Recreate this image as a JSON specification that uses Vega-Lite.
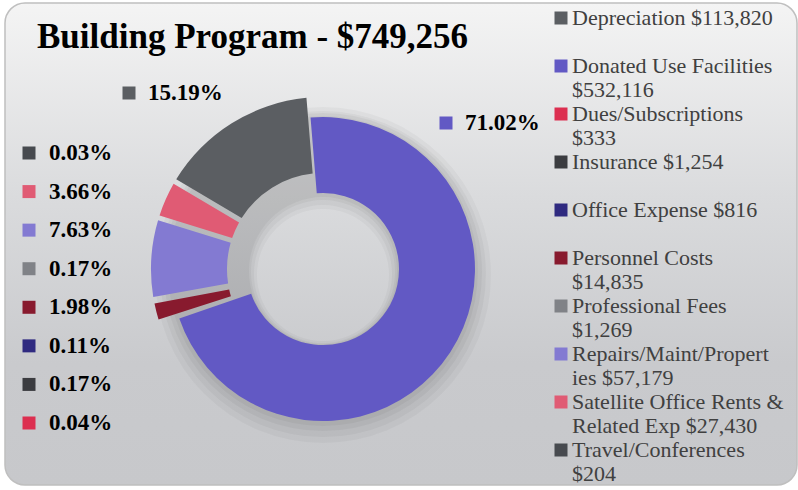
{
  "$schema": "https://vega.github.io/schema/vega-lite/v6.json",
  "width": 798,
  "height": 490,
  "autosize": {"type": "fit", "contains": "padding"},
  "padding": {"left": 5, "top": 3, "right": 1, "bottom": 5},
  "background": "white",
  "title": {
    "text": "Building Program - $749,256",
    "anchor": "start",
    "frame": "group",
    "font": "Liberation Serif",
    "fontSize": 35,
    "fontWeight": "bold",
    "color": "#000000",
    "baseline": "alphabetic",
    "offset": -80,
    "dx": 32
  },
  "config": {
    "view": {
      "stroke": "#bfbfbf",
      "strokeWidth": 1.5,
      "cornerRadius": 20,
      "fill": {
        "gradient": "linear",
        "x1": 0, "y1": 0, "x2": 0, "y2": 1,
        "stops": [
          {"offset": 0, "color": "#f4f4f4"},
          {"offset": 0.4, "color": "#dadbdd"},
          {"offset": 0.75, "color": "#c9cacd"},
          {"offset": 1, "color": "#c7c8cb"}
        ]
      }
    },
    "legend": {
      "orient": "none",
      "legendX": 545,
      "legendY": 4,
      "symbolType": "square",
      "symbolSize": 169,
      "symbolStrokeWidth": 0,
      "labelFont": "Liberation Serif",
      "labelFontSize": 22,
      "labelColor": "#404040",
      "labelLimit": 320,
      "labelOffset": 0,
      "rowPadding": 2
    }
  },
  "data": {
    "values": [
      {"category": "Depreciation", "amount": 113820, "legend": "Depreciation $113,820"},
      {"category": "Donated Use Facilities", "amount": 532116, "legend": "Donated Use Facilities\n$532,116"},
      {"category": "Dues/Subscriptions", "amount": 333, "legend": "Dues/Subscriptions\n$333"},
      {"category": "Insurance", "amount": 1254, "legend": "Insurance $1,254"},
      {"category": "Office Expense", "amount": 816, "legend": "Office Expense $816"},
      {"category": "Personnel Costs", "amount": 14835, "legend": "Personnel Costs\n$14,835"},
      {"category": "Professional Fees", "amount": 1269, "legend": "Professional Fees\n$1,269"},
      {"category": "Repairs/Maint/Properties", "amount": 57179, "legend": "Repairs/Maint/Propert\nies $57,179"},
      {"category": "Satellite Office Rents & Related Exp", "amount": 27430, "legend": "Satellite Office Rents &\nRelated Exp  $27,430"},
      {"category": "Travel/Conferences", "amount": 204, "legend": "Travel/Conferences\n$204"}
    ]
  },
  "transform": [
    {"stack": "amount", "groupby": [], "sort": [{"field": "category", "order": "ascending"}], "offset": "normalize", "as": ["s0", "s1"]},
    {"calculate": "datum.s1 - datum.s0", "as": "share"}
  ],
  "layer": [
    {
      "transform": [{"filter": "datum.category === 'Donated Use Facilities'"}],
      "mark": {"type": "arc", "innerRadius": 66, "outerRadius": 168, "color": "#000000", "fillOpacity": 0.03, "x": {"expr": "width*0.4015"}, "y": {"expr": "height*0.552 + 6"}},
      "encoding": {"theta": {"value": 0}, "theta2": {"value": 6.2832}}
    },
    {
      "transform": [{"filter": "datum.category === 'Donated Use Facilities'"}],
      "mark": {"type": "arc", "innerRadius": 69, "outerRadius": 163, "color": "#000000", "fillOpacity": 0.035, "x": {"expr": "width*0.4015"}, "y": {"expr": "height*0.552 + 5"}},
      "encoding": {"theta": {"value": 0}, "theta2": {"value": 6.2832}}
    },
    {
      "transform": [{"filter": "datum.category === 'Donated Use Facilities'"}],
      "mark": {"type": "arc", "innerRadius": 72, "outerRadius": 159, "color": "#000000", "fillOpacity": 0.04, "x": {"expr": "width*0.4015"}, "y": {"expr": "height*0.552 + 3"}},
      "encoding": {"theta": {"value": 0}, "theta2": {"value": 6.2832}}
    },
    {
      "transform": [{"filter": "datum.category === 'Donated Use Facilities'"}],
      "mark": {"type": "arc", "innerRadius": 74, "outerRadius": 155, "color": "#000000", "fillOpacity": 0.04, "x": {"expr": "width*0.4015"}, "y": {"expr": "height*0.552 + 2"}},
      "encoding": {"theta": {"value": 0}, "theta2": {"value": 6.2832}}
    },
    {
      "transform": [{"filter": "datum.category === 'Donated Use Facilities'"}],
      "mark": {"type": "arc", "innerRadius": 76, "outerRadius": 152, "x": {"expr": "width*0.4015"}, "y": {"expr": "height*0.552"}},
      "encoding": {
        "theta": {"field": "s0", "type": "quantitative", "scale": {"domain": [0, 1], "range": [-1.0365, 5.2467]}},
        "theta2": {"field": "s1"},
        "color": {
          "field": "legend",
          "type": "nominal",
          "scale": {
            "domain": ["Depreciation $113,820", "Donated Use Facilities\n$532,116", "Dues/Subscriptions\n$333", "Insurance $1,254", "Office Expense $816", "Personnel Costs\n$14,835", "Professional Fees\n$1,269", "Repairs/Maint/Propert\nies $57,179", "Satellite Office Rents &\nRelated Exp  $27,430", "Travel/Conferences\n$204"],
            "range": ["#5b5e62", "#6259c4", "#dc2f50", "#3b3c40", "#2f2a80", "#881a2e", "#808287", "#837ad2", "#e05b74", "#474a4f"]
          },
          "legend": {"title": null, "labelExpr": "indexof(datum.label, '\\n') < 0 ? [datum.label, ' '] : split(datum.label, '\\n')"}
        }
      }
    },
    {
      "transform": [{"filter": "datum.category !== 'Donated Use Facilities'"}],
      "mark": {"type": "arc", "innerRadius": 96, "outerRadius": 172, "padAngle": 0.025, "x": {"expr": "width*0.4015"}, "y": {"expr": "height*0.552"}},
      "encoding": {
        "theta": {"field": "s0", "type": "quantitative", "scale": {"domain": [0, 1], "range": [-1.0365, 5.2467]}},
        "theta2": {"field": "s1"},
        "color": {"field": "legend", "type": "nominal"}
      }
    },
    {
      "transform": [{"filter": "datum.category !== 'Donated Use Facilities' && datum.category !== 'Depreciation'"}],
      "layer": [
        {
          "mark": {"type": "point", "shape": "square", "filled": true, "size": 169, "opacity": 1},
          "encoding": {
            "x": {"value": 24},
            "y": {"field": "category", "type": "nominal", "axis": null, "scale": {"type": "point", "padding": 0, "domain": ["Travel/Conferences", "Satellite Office Rents & Related Exp", "Repairs/Maint/Properties", "Professional Fees", "Personnel Costs", "Office Expense", "Insurance", "Dues/Subscriptions"], "range": [150, 420]}},
            "color": {"field": "legend", "type": "nominal"}
          }
        },
        {
          "mark": {"type": "text", "align": "left", "baseline": "middle", "dx": 20, "font": "Liberation Serif", "fontSize": 23, "fontWeight": "bold", "color": "#000000"},
          "encoding": {
            "x": {"value": 24},
            "y": {"field": "category", "type": "nominal", "axis": null, "scale": {"type": "point", "padding": 0, "domain": ["Travel/Conferences", "Satellite Office Rents & Related Exp", "Repairs/Maint/Properties", "Professional Fees", "Personnel Costs", "Office Expense", "Insurance", "Dues/Subscriptions"], "range": [150, 420]}},
            "text": {"field": "share", "type": "quantitative", "format": ".2%"}
          }
        }
      ]
    },
    {
      "transform": [{"filter": "datum.category === 'Donated Use Facilities' || datum.category === 'Depreciation'"}],
      "layer": [
        {
          "mark": {"type": "point", "shape": "square", "filled": true, "size": 169, "opacity": 1},
          "encoding": {
            "x": {"field": "category", "type": "nominal", "axis": null, "scale": {"type": "point", "padding": 0, "domain": ["Depreciation", "Donated Use Facilities"], "range": [124, 441]}},
            "y": {"field": "category", "type": "nominal", "axis": null, "scale": {"type": "point", "padding": 0, "domain": ["Depreciation", "Donated Use Facilities"], "range": [90, 120]}},
            "color": {"field": "legend", "type": "nominal"}
          }
        },
        {
          "mark": {"type": "text", "align": "left", "baseline": "middle", "dx": 19, "font": "Liberation Serif", "fontSize": 23, "fontWeight": "bold", "color": "#000000"},
          "encoding": {
            "x": {"field": "category", "type": "nominal", "axis": null, "scale": {"type": "point", "padding": 0, "domain": ["Depreciation", "Donated Use Facilities"], "range": [124, 441]}},
            "y": {"field": "category", "type": "nominal", "axis": null, "scale": {"type": "point", "padding": 0, "domain": ["Depreciation", "Donated Use Facilities"], "range": [90, 120]}},
            "text": {"field": "share", "type": "quantitative", "format": ".2%"}
          }
        }
      ],
      "resolve": {"scale": {"x": "shared", "y": "shared"}}
    }
  ],
  "resolve": {"scale": {"x": "independent", "y": "independent"}}
}
